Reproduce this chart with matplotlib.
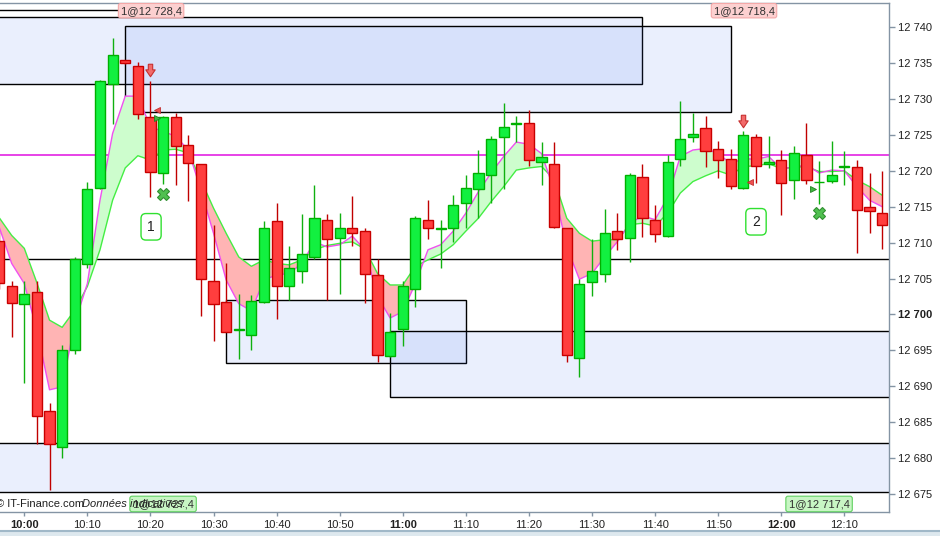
import matplotlib
matplotlib.use("Agg")
import matplotlib.pyplot as plt
import numpy as np
from matplotlib.path import Path
from matplotlib.patches import Rectangle

plt.rcParams['font.family'] = ['Liberation Sans', 'DejaVu Sans']

# 2-minute candles, time in minutes after 10:00
times = list(range(-4, 137, 2))
opens = [12710.2, 12704.0, 12701.4, 12703.1, 12686.5, 12681.6, 12695.0, 12707.0, 12717.6, 12732.1,
         12735.4, 12734.6, 12727.5, 12719.7, 12727.5, 12723.6, 12720.9, 12704.6, 12701.7, 12697.8,
         12697.1, 12701.7, 12713.0, 12703.9, 12706.1, 12708.0, 12713.1, 12710.6, 12712.0, 12711.6,
         12705.5, 12694.2, 12697.9, 12703.6, 12713.1, 12711.9, 12712.1, 12715.5, 12717.4, 12719.4,
         12724.7, 12726.5, 12726.6, 12721.2, 12720.9, 12712.0, 12693.9, 12704.5, 12705.6, 12711.6,
         12710.6, 12719.1, 12713.2, 12710.9, 12721.6, 12724.7, 12725.9, 12723.1, 12721.6, 12717.6,
         12724.7, 12720.9, 12721.5, 12718.7, 12722.2, 12718.4, 12718.6, 12720.5, 12720.5, 12714.9,
         12714.1]
highs = [12711.5, 12704.6, 12704.7, 12704.7, 12687.6, 12695.7, 12708.0, 12718.4, 12732.6, 12738.5,
         12735.4, 12735.2, 12732.5, 12727.6, 12728.1, 12725.0, 12721.0, 12712.5, 12707.1, 12702.9,
         12702.7, 12713.0, 12715.5, 12709.5, 12714.0, 12718.0, 12714.0, 12714.1, 12716.5, 12712.1,
         12707.7, 12700.2, 12704.6, 12713.7, 12715.9, 12713.1, 12716.6, 12719.4, 12722.9, 12724.8,
         12729.4, 12727.6, 12728.5, 12724.0, 12724.0, 12712.1, 12705.0, 12710.5, 12714.7, 12714.1,
         12719.7, 12721.0, 12715.2, 12722.2, 12729.7, 12728.1, 12727.6, 12724.2, 12723.1, 12725.5,
         12725.1, 12724.8, 12722.9, 12723.5, 12726.6, 12721.3, 12724.2, 12722.7, 12721.5, 12719.7,
         12720.0]
lows = [12703.5, 12696.9, 12690.4, 12682.0, 12675.6, 12680.0, 12694.5, 12706.4, 12717.5, 12726.5,
        12734.9, 12727.2, 12716.4, 12718.1, 12718.0, 12715.8, 12699.8, 12696.3, 12697.6, 12693.8,
        12695.0, 12701.6, 12699.4, 12702.0, 12704.4, 12707.7, 12702.0, 12702.9, 12709.5, 12701.6,
        12693.4, 12694.1, 12695.6, 12701.0, 12710.5, 12706.4, 12710.1, 12712.1, 12713.4, 12715.5,
        12717.4, 12724.0, 12720.6, 12718.0, 12712.0, 12693.4, 12691.3, 12702.6, 12704.5, 12709.0,
        12707.3, 12710.8, 12710.1, 12710.8, 12720.6, 12724.0, 12720.5, 12719.0, 12717.4, 12717.5,
        12718.3, 12720.4, 12713.9, 12716.1, 12718.1, 12715.4, 12718.3, 12718.0, 12708.6, 12711.4,
        12709.1]
closes = [12704.4, 12701.6, 12702.9, 12685.9, 12681.9, 12695.0, 12707.7, 12717.4, 12732.5, 12736.1,
          12735.0, 12727.9, 12719.9, 12727.5, 12723.4, 12721.1, 12704.9, 12701.5, 12697.6, 12697.9,
          12701.9, 12712.0, 12703.9, 12706.4, 12708.4, 12713.4, 12710.5, 12712.1, 12711.4, 12705.6,
          12694.4, 12697.6, 12704.0, 12713.4, 12712.1, 12712.0, 12715.2, 12717.6, 12719.7, 12724.4,
          12726.1, 12726.6, 12721.5, 12721.9, 12712.2, 12694.4, 12704.2, 12706.0, 12711.4, 12710.5,
          12719.4, 12713.4, 12711.2, 12721.2, 12724.4, 12725.1, 12722.8, 12721.5, 12717.9, 12725.0,
          12720.7, 12721.2, 12718.3, 12722.5, 12718.7, 12718.5, 12719.4, 12720.6, 12714.6, 12714.4,
          12712.4]

# fast (magenta) and slow (green) averages
fast_ma = [12712.2, 12707.1, 12704.3, 12697.8, 12689.5, 12689.9, 12698.8, 12704.3, 12715.9, 12725.2,
           12730.4, 12730.4, 12726.1, 12725.5, 12724.8, 12722.9, 12717.3, 12711.3, 12704.8, 12701.5,
           12700.5, 12704.8, 12705.5, 12705.7, 12707.1, 12710.1, 12709.4, 12709.7, 12710.9, 12709.0,
           12702.5, 12699.5, 12700.4, 12704.3, 12709.0, 12709.7, 12711.6, 12714.1, 12717.1, 12719.7,
           12722.0, 12724.0, 12723.7, 12722.4, 12717.3, 12709.4, 12704.9, 12705.7, 12708.0, 12710.1,
           12712.7, 12713.7, 12713.2, 12716.3, 12722.0, 12722.9, 12723.1, 12722.4, 12721.0, 12721.7,
           12721.6, 12722.0, 12720.3, 12720.5, 12720.8, 12719.7, 12720.1, 12720.0, 12717.8, 12715.9,
           12715.0]
slow_ma = [12713.5, 12711.0, 12709.2, 12704.4, 12699.2, 12698.2, 12700.6, 12703.9, 12709.0, 12715.9,
           12720.4, 12722.1, 12721.5, 12722.9, 12723.0, 12722.5, 12718.7, 12714.8, 12711.3, 12708.0,
           12706.7, 12707.6, 12707.1, 12706.9, 12707.6, 12709.0, 12709.6, 12709.9, 12710.1, 12709.1,
           12705.7, 12704.1, 12704.1, 12706.7, 12707.6, 12708.4, 12709.7, 12711.6, 12713.4, 12715.7,
           12717.8, 12720.1, 12720.4, 12720.6, 12718.8, 12713.4, 12711.3, 12710.2, 12710.4, 12710.4,
           12712.5, 12712.7, 12712.3, 12714.1, 12716.9, 12718.5, 12719.3, 12720.0, 12719.4, 12720.6,
           12720.7, 12721.0, 12720.3, 12720.5, 12720.6, 12719.9, 12719.9, 12720.0, 12718.7, 12717.8,
           12716.6]

# zones: (start, end, low, high); None = to chart edge
zones = [(None, 98, 12732.05, 12741.4),
         (16, 112, 12728.2, 12740.2),
         (32, 70, 12693.2, 12702.0),
         (58, None, 12688.5, 12697.65),
         (None, None, 12675.2, 12682.05)]
black_level = 12707.7
magenta_level = 12722.16
stop_level = 12742.36

sell_arrows_t = [20, 114]
sell_arrows_p = [12734.0, 12726.9]
exits_t = [22, 126]
exits_p = [12716.7, 12714.1]
entry_t = [21, 115]
entry_p = [12728.4, 12718.4]
cover_t = [21, 125]
cover_p = [12727.4, 12717.4]
trade_no = ['1', '2']
trade_no_t = [20.1, 116]
trade_no_p = [12712.2, 12712.9]
top_labels = ['1@12 728,4', '1@12 718,4']
top_labels_t = [20.1, 114.1]
bottom_labels = ['1@12 727,4', '1@12 717,4']
bottom_labels_t = [22, 126]

x_ticks = list(range(0, 131, 10))
x_tick_labels = ['10:00', '10:10', '10:20', '10:30', '10:40', '10:50', '11:00',
                 '11:10', '11:20', '11:30', '11:40', '11:50', '12:00', '12:10']
y_ticks = list(range(12675, 12741, 5))

px_per_min = 6.3077
x_10h = 24.3
xmin = -x_10h / px_per_min
xmax = (889.3 - x_10h) / px_per_min
ymin, ymax = 12672.48, 12743.44

fig = plt.figure(figsize=(9.4, 5.36), dpi=100)
ax = fig.add_axes([0, 24 / 536, 889.3 / 940, (512 - 2.5) / 536])
ax.set_xlim(xmin, xmax)
ax.set_ylim(ymin, ymax)

# zones
for start, end, lo, hi in zones:
    x1 = xmin - 2 if start is None else start
    x2 = xmax + 2 if end is None else end
    ax.add_patch(Rectangle((x1, lo), x2 - x1, hi - lo, facecolor=(0.2, 0.4, 0.93, 0.1),
                           edgecolor='black', lw=1.0, zorder=1))

ax.axhline(black_level, color='black', lw=1.0, zorder=1.2)
ax.axhline(magenta_level, color='#e010e0', lw=1.1, zorder=1.2)
ax.plot([xmin, 20], [stop_level, stop_level], color='black', lw=1.0, zorder=1.2)
ax.plot([20, 20], [stop_level, ymax], color='black', lw=1.0, zorder=1.2)

# moving average ribbon
t = np.array(times, dtype=float)
f = np.array(fast_ma)
s = np.array(slow_ma)
ax.fill_between(t, f, s, where=f >= s, interpolate=True, color='#cdfdcd', lw=0, zorder=1.5)
ax.fill_between(t, f, s, where=f < s, interpolate=True, color='#ffb4b4', lw=0, zorder=1.5)
ax.plot(t, s, color='#44ee44', lw=1.0, zorder=2)
ax.plot(t, f, color='#f050f0', lw=1.0, zorder=2)

# candles
o = np.array(opens)
c = np.array(closes)
up = c >= o
ax.vlines(t[up], np.array(lows)[up], np.array(highs)[up], color='#10b010', lw=1.0, zorder=3)
ax.vlines(t[~up], np.array(lows)[~up], np.array(highs)[~up], color='#c00000', lw=1.0, zorder=3)
body_h = np.maximum(np.abs(c - o), 0.08)
body_b = np.minimum(o, c)
ax.bar(t[up], body_h[up], bottom=body_b[up], width=1.6, color='#12f040',
       edgecolor='#00b000', linewidth=1.0, zorder=4)
ax.bar(t[~up], body_h[~up], bottom=body_b[~up], width=1.6, color='#ff3e3e',
       edgecolor='#c80000', linewidth=1.0, zorder=4)

# signals
arrow = Path([(-0.35, 1), (0.35, 1), (0.35, 0.1), (0.75, 0.1), (0, -1), (-0.75, 0.1),
              (-0.35, 0.1), (-0.35, 1)])
ax.plot(sell_arrows_t, sell_arrows_p, ls='none', marker=arrow, ms=9,
        mfc='#f26a6a', mec='#c83030', mew=0.8, zorder=6)
ax.plot(exits_t, exits_p, ls='none', marker='X', ms=9, mfc='#50c050', mec='#309030',
        mew=0.8, zorder=6)
ax.plot(entry_t, entry_p, ls='none', marker='<', ms=4.5, mfc='#f05050', mec='#c03030',
        mew=0.6, zorder=6)
ax.plot(cover_t, cover_p, ls='none', marker='>', ms=4.5, mfc='#40b840', mec='#208020',
        mew=0.6, zorder=6)

for lab, tx, py in zip(trade_no, trade_no_t, trade_no_p):
    ax.text(tx, py, lab, ha='center', va='center', fontsize=10, color='#202020', zorder=7,
            bbox=dict(boxstyle='round,pad=0.45,rounding_size=0.35', fc='white', ec='#30e030', lw=1.0))

for lab, tx in zip(top_labels, top_labels_t):
    ax.text(tx, 12742.3, lab, ha='center', va='center', fontsize=8, color='#303030', zorder=7,
            bbox=dict(boxstyle='round,pad=0.2,rounding_size=0.2', fc='#fcd0d0', ec='#f4a8a8', lw=0.8))
for lab, tx in zip(bottom_labels, bottom_labels_t):
    ax.text(tx, 12673.6, lab, ha='center', va='center', fontsize=8, color='#303030', zorder=7,
            bbox=dict(boxstyle='round,pad=0.25,rounding_size=0.2', fc='#c8f6c4', ec='#60d060', lw=0.8))

# watermark, drawn over the order label as in the source
ax.text(-4 / 889.3, 8 / 509.5, '\u00a9 IT-Finance.com', transform=ax.transAxes,
        fontsize=8, color='#202020', va='center', ha='left', zorder=8)
ax.text(82 / 889.3, 8 / 509.5, 'Donn\u00e9es indicatives.', transform=ax.transAxes,
        fontsize=8, style='italic', color='#202020', va='center', ha='left', zorder=8)

# axes styling
ax.spines['left'].set_visible(False)
for side in ['top', 'right', 'bottom']:
    ax.spines[side].set_color('#8494a4')
    ax.spines[side].set_linewidth(1.0)

ax.set_xticks(x_ticks)
ax.set_xticklabels(x_tick_labels)
for lab, tk in zip(ax.get_xticklabels(), x_ticks):
    if tk % 60 == 0:
        lab.set_fontweight('bold')
        lab.set_fontsize(9)
ax.tick_params(axis='x', length=3, width=1, color='#8494a4', pad=3, labelsize=8, labelcolor='#202020')

ax.yaxis.tick_right()
ax.set_yticks(y_ticks)
ax.set_yticklabels(['%d %03d' % (v // 1000, v % 1000) for v in y_ticks])
for lab, tk in zip(ax.get_yticklabels(), y_ticks):
    if tk == 12700:
        lab.set_fontweight('bold')
        lab.set_fontsize(9)
ax.tick_params(axis='y', length=4, width=1, color='#8494a4', pad=2, labelsize=8, labelcolor='#202020')

# bottom strip of the window
fig.patches.append(Rectangle((0, 0), 1, 5 / 536, transform=fig.transFigure,
                             facecolor='#dde8ee', edgecolor='none'))
fig.lines.append(plt.Line2D([0, 1], [5 / 536, 5 / 536], transform=fig.transFigure,
                            color='#a0b8c8', lw=1.5))

fig.savefig('out.png', dpi=100)
